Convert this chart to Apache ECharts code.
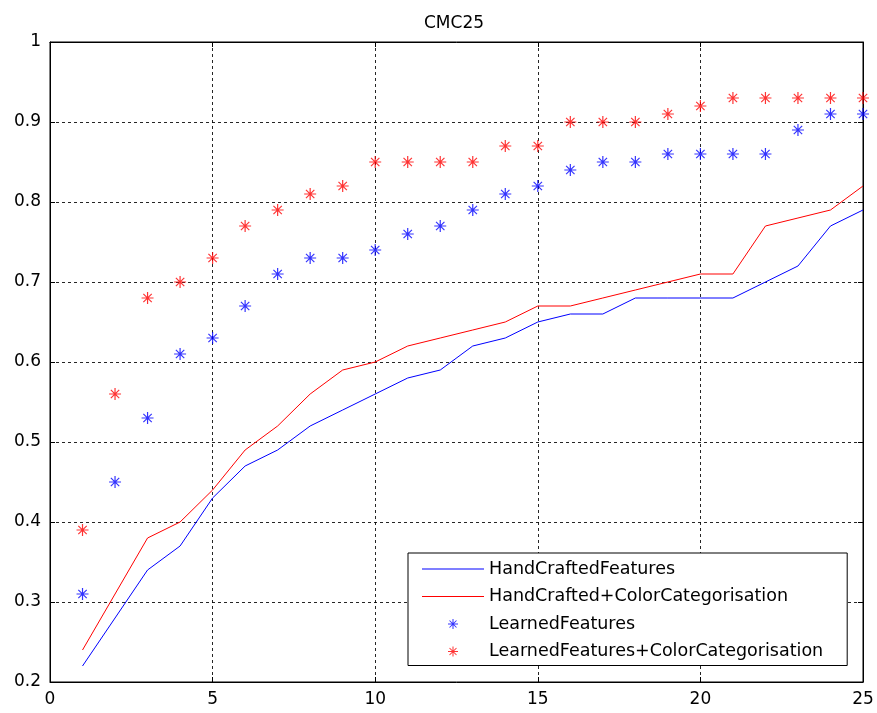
<!DOCTYPE html>
<html>
<head>
<meta charset="utf-8">
<script src="https://cdn.jsdelivr.net/npm/echarts@6/dist/echarts.min.js"></script>
<style>
html,body{margin:0;padding:0;background:#fff;}
#chart{width:877px;height:713px;}
</style>
</head>
<body>
<div id="chart"></div>
<script>
var ranks = [1,2,3,4,5,6,7,8,9,10,11,12,13,14,15,16,17,18,19,20,21,22,23,24,25];
var handCrafted = [0.22,0.28,0.34,0.37,0.43,0.47,0.49,0.52,0.54,0.56,0.58,0.59,0.62,0.63,0.65,0.66,0.66,0.68,0.68,0.68,0.68,0.70,0.72,0.77,0.79];
var handCraftedColor = [0.24,0.31,0.38,0.40,0.44,0.49,0.52,0.56,0.59,0.60,0.62,0.63,0.64,0.65,0.67,0.67,0.68,0.69,0.70,0.71,0.71,0.77,0.78,0.79,0.82];
var learned = [0.31,0.45,0.53,0.61,0.63,0.67,0.71,0.73,0.73,0.74,0.76,0.77,0.79,0.81,0.82,0.84,0.85,0.85,0.86,0.86,0.86,0.86,0.89,0.91,0.91];
var learnedColor = [0.39,0.56,0.68,0.70,0.73,0.77,0.79,0.81,0.82,0.85,0.85,0.85,0.85,0.87,0.87,0.90,0.90,0.90,0.91,0.92,0.93,0.93,0.93,0.93,0.93];
var seriesNames = ['HandCraftedFeatures','HandCrafted+ColorCategorisation','LearnedFeatures','LearnedFeatures+ColorCategorisation'];
var xTicks = [0,5,10,15,20,25];
var yTicks = [0.2,0.3,0.4,0.5,0.6,0.7,0.8,0.9,1];

function pairs(ys){ return ranks.map(function(r,i){ return [r, ys[i]]; }); }

var star = 'path://M9,0 L11,0 L11,20 L9,20 Z M0,9 L20,9 L20,11 L0,11 Z M2.3,3.7 L3.7,2.3 L17.7,16.3 L16.3,17.7 Z M16.3,2.3 L17.7,3.7 L3.7,17.7 L2.3,16.3 Z';
var lineIcon = 'path://M0,0 L62,0 L62,1 L0,1 Z';
var font = 'DejaVu Sans, sans-serif';

var chart = echarts.init(document.getElementById('chart'), null, {renderer:'canvas'});
var gridLine = {show:true, lineStyle:{color:'#000', type:[3,3], width:1, opacity:0.85}};
chart.setOption({
  animation:false,
  backgroundColor:'#fff',
  title:{text:'CMC25', left:419, top:10, textStyle:{fontFamily:font, fontSize:17, fontWeight:'normal', color:'#000'}},
  grid:{left:50, right:14, top:42, bottom:31, show:true, borderColor:'#000', borderWidth:1, backgroundColor:'#fff'},
  xAxis:[{
    type:'value', min:xTicks[0], max:xTicks[xTicks.length-1], interval:5,
    axisLine:{show:true, onZero:false, lineStyle:{color:'#000'}},
    axisTick:{show:true, inside:true, length:5, lineStyle:{color:'#000'}},
    axisLabel:{color:'#000', fontFamily:font, fontSize:17, margin:9},
    splitLine:gridLine
  },{
    type:'value', position:'top', min:xTicks[0], max:xTicks[xTicks.length-1], interval:5,
    axisLine:{show:true, onZero:false, lineStyle:{color:'#000'}},
    axisTick:{show:true, inside:true, length:5, lineStyle:{color:'#000'}},
    axisLabel:{show:false}, splitLine:{show:false}
  }],
  yAxis:[{
    type:'value', min:yTicks[0], max:yTicks[yTicks.length-1], interval:0.1,
    axisLine:{show:true, onZero:false, lineStyle:{color:'#000'}},
    axisTick:{show:true, inside:true, length:5, lineStyle:{color:'#000'}},
    axisLabel:{color:'#000', fontFamily:font, fontSize:17, margin:9,
      formatter:function(v){ var r=Math.round(v*10)/10; return r===1?'1':r.toFixed(1); }},
    splitLine:gridLine
  },{
    type:'value', position:'right', min:yTicks[0], max:yTicks[yTicks.length-1], interval:0.1,
    axisLine:{show:true, onZero:false, lineStyle:{color:'#000'}},
    axisTick:{show:true, inside:true, length:5, lineStyle:{color:'#000'}},
    axisLabel:{show:false}, splitLine:{show:false}
  }],
  legend:{
    orient:'vertical', left:408, top:553, align:'left',
    backgroundColor:'#fff', borderColor:'#000', borderWidth:1,
    padding:[7,24,5,14], itemGap:9.5, itemWidth:62, itemHeight:10,
    textStyle:{fontFamily:font, fontSize:17.5, color:'#000'},
    data:[
      {name:seriesNames[0], icon:lineIcon},
      {name:seriesNames[1], icon:lineIcon},
      {name:seriesNames[2], icon:star},
      {name:seriesNames[3], icon:star}
    ]
  },
  series:[
    {name:seriesNames[0], type:'line', data:pairs(handCrafted), symbol:'none', lineStyle:{color:'#0000ff', width:1}, itemStyle:{color:'#0000ff'}},
    {name:seriesNames[1], type:'line', data:pairs(handCraftedColor), symbol:'none', lineStyle:{color:'#ff0000', width:1}, itemStyle:{color:'#ff0000'}},
    {name:seriesNames[2], type:'scatter', data:pairs(learned), symbol:star, symbolSize:12, itemStyle:{color:'#0000ff'}},
    {name:seriesNames[3], type:'scatter', data:pairs(learnedColor), symbol:star, symbolSize:12, itemStyle:{color:'#ff0000'}}
  ]
});
</script>
</body>
</html>
